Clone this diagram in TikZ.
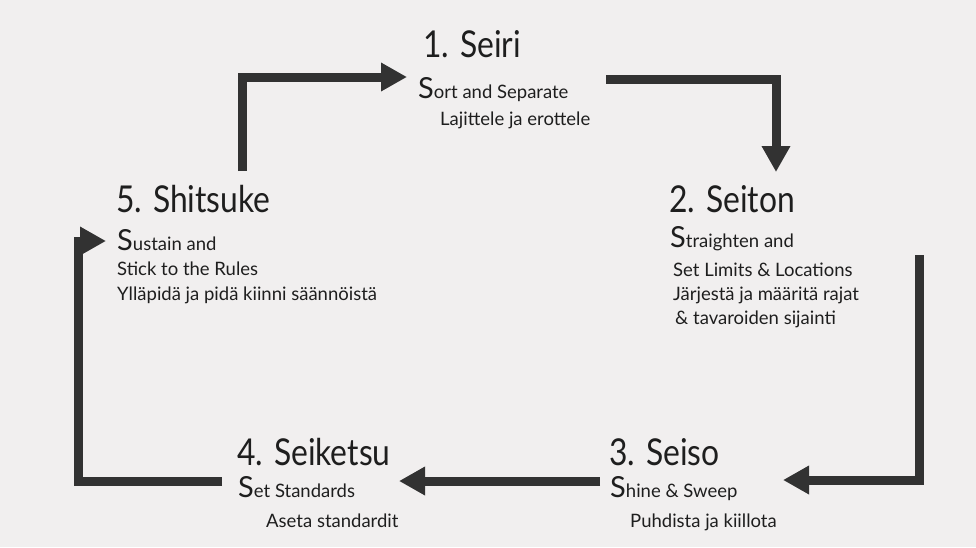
\documentclass[tikz,border=0pt]{standalone}
\usepackage{fontspec}
\setmainfont{Lato}
\newfontfamily\headfont{Lato}[FakeStretch=0.86]
\usetikzlibrary{arrows.meta}
\definecolor{paper}{RGB}{241,239,239}
\definecolor{ink}{RGB}{30,30,30}
\definecolor{arrowgray}{RGB}{50,50,50}
% enlarged initial letter of each English line
\newcommand{\initS}[1]{{\fontsize{29}{29}\selectfont #1}}

\begin{document}
\begin{tikzpicture}[x=1pt,y=-1pt,
  flow/.style={draw=arrowgray, line width=9pt, line join=miter,
               -{Triangle[length=26pt,width=27pt]}},
  head/.style={anchor=base west, inner sep=0pt, text=ink,
               font=\headfont\fontsize{37}{37}\selectfont},
  sub/.style={anchor=base west, inner sep=0pt, text=ink,
              font=\fontsize{18.5}{18.5}\selectfont}]

\fill[paper] (0,0) rectangle (976,547);
\useasboundingbox (0,0) rectangle (976,547);

% 1. Seiri
\node[head] (seiri)   at (423,57)  {1. Seiri};
\node[sub]  (seiriA)  at (418,98)  {\initS{S}ort and Separate};
\node[sub]  (seiriB)  at (440,125) {Lajittele ja erottele};

% 2. Seiton
\node[head] (seiton)  at (669,212) {2. Seiton};
\node[sub]  (seitonA) at (670,247) {\initS{S}traighten and};
\node[sub]  (seitonB) at (673,276) {Set Limits \& Locations};
\node[sub]  (seitonC) at (673,300) {Järjestä ja määritä rajat};
\node[sub]  (seitonD) at (675,324) {\& tavaroiden sijainti};

% 3. Seiso
\node[head] (seiso)   at (609,465) {3. Seiso};
\node[sub]  (seisoA)  at (610,497) {\initS{S}hine \& Sweep};
\node[sub]  (seisoB)  at (630,527) {Puhdista ja kiillota};

% 4. Seiketsu
\node[head] (seiketsu)  at (237,465) {4. Seiketsu};
\node[sub]  (seiketsuA) at (238,497) {\initS{S}et Standards};
\node[sub]  (seiketsuB) at (266,527) {Aseta standardit};

% 5. Shitsuke
\node[head] (shitsuke)  at (116,212) {5. Shitsuke};
\node[sub]  (shitsukeA) at (117,250) {\initS{S}ustain and};
\node[sub]  (shitsukeB) at (117,275) {Stick to the Rules};
\node[sub]  (shitsukeC) at (117,300) {Ylläpidä ja pidä kiinni säännöistä};

% ends and corners of the cycle arrows
\coordinate (a1s) at (242,171);
\coordinate (a1e) at (407,77);
\coordinate (a2s) at (606,79);
\coordinate (a2e) at (776,172);
\coordinate (a3s) at (919,255);
\coordinate (a3e) at (783,480);
\coordinate (a4s) at (600,481);
\coordinate (a4e) at (399,481);
\coordinate (a5s) at (222,481);
\coordinate (a5c) at (78,241);
\coordinate (a5e) at (106,241);

\draw[flow] (a1s) |- (a1e);
\draw[flow] (a2s) -| (a2e);
\draw[flow] (a3s) |- (a3e);
\draw[flow] (a4s) -- (a4e);
\draw[flow] (a5s) -| (a5c) -- (a5e);

\end{tikzpicture}
\end{document}
